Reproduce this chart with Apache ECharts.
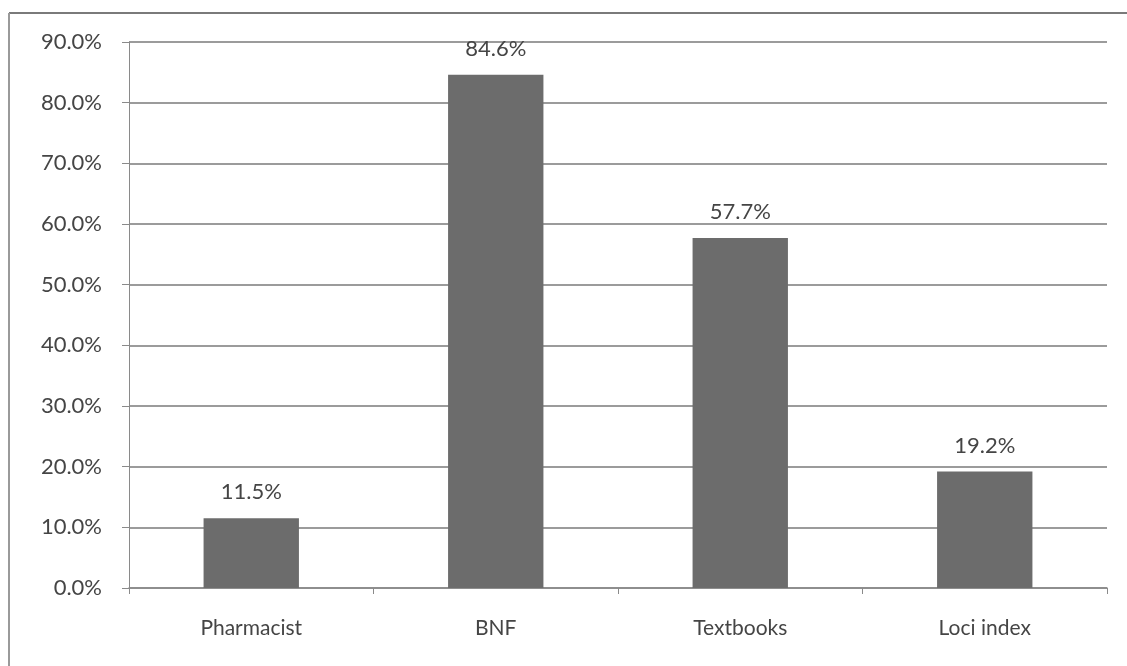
<!DOCTYPE html>
<html>
<head>
<meta charset="utf-8">
<script src="https://cdn.jsdelivr.net/npm/echarts@6/dist/echarts.min.js"></script>
<style>
  html, body { margin: 0; padding: 0; background: #fff; }
  #chart { width: 1127px; height: 666px; }
</style>
</head>
<body>
<div id="chart"></div>
<script>
const categories = ['Pharmacist', 'BNF', 'Textbooks', 'Loci index']
const shares = [11.5, 84.6, 57.7, 19.2]

const chart = echarts.init(document.getElementById('chart'))

const textColor = '#454545'
const lineColor = '#8a8a8a'

const option = {
  animation: false,
  backgroundColor: '#ffffff',
  textStyle: { fontFamily: 'Lato, "Open Sans", sans-serif' },
  // scanned page frame: top and left edges only
  graphic: [
    { type: 'line', shape: { x1: 9, y1: 13, x2: 1127, y2: 13 }, style: { stroke: '#7a7a7a', lineWidth: 2 } },
    { type: 'line', shape: { x1: 9, y1: 13, x2: 9, y2: 666 }, style: { stroke: '#9a9a9a', lineWidth: 2 } }
  ],
  grid: { left: 129, right: 20, top: 42, bottom: 78 },
  xAxis: {
    type: 'category',
    data: categories,
    axisLine: { lineStyle: { color: lineColor, width: 1.5 } },
    axisTick: { show: true, length: 6, lineStyle: { color: lineColor } },
    axisLabel: { color: textColor, fontSize: 21, margin: 30 }
  },
  yAxis: {
    type: 'value',
    min: 0,
    max: 90,
    interval: 10,
    axisLine: { show: true, lineStyle: { color: lineColor, width: 1 } },
    axisTick: { show: true, length: 7, lineStyle: { color: lineColor } },
    axisLabel: {
      color: textColor,
      fontSize: 22,
      margin: 27,
      formatter: v => v.toFixed(1) + '%'
    },
    splitLine: { lineStyle: { color: '#7a7a7a', width: 1.5 } }
  },
  series: [
    {
      type: 'bar',
      data: shares,
      barWidth: '39%',
      itemStyle: { color: '#6c6c6c' },
      label: {
        show: true,
        position: 'top',
        distance: 15,
        color: textColor,
        fontSize: 22,
        formatter: p => p.value.toFixed(1) + '%'
      }
    }
  ]
}

chart.setOption(option)
</script>
</body>
</html>
